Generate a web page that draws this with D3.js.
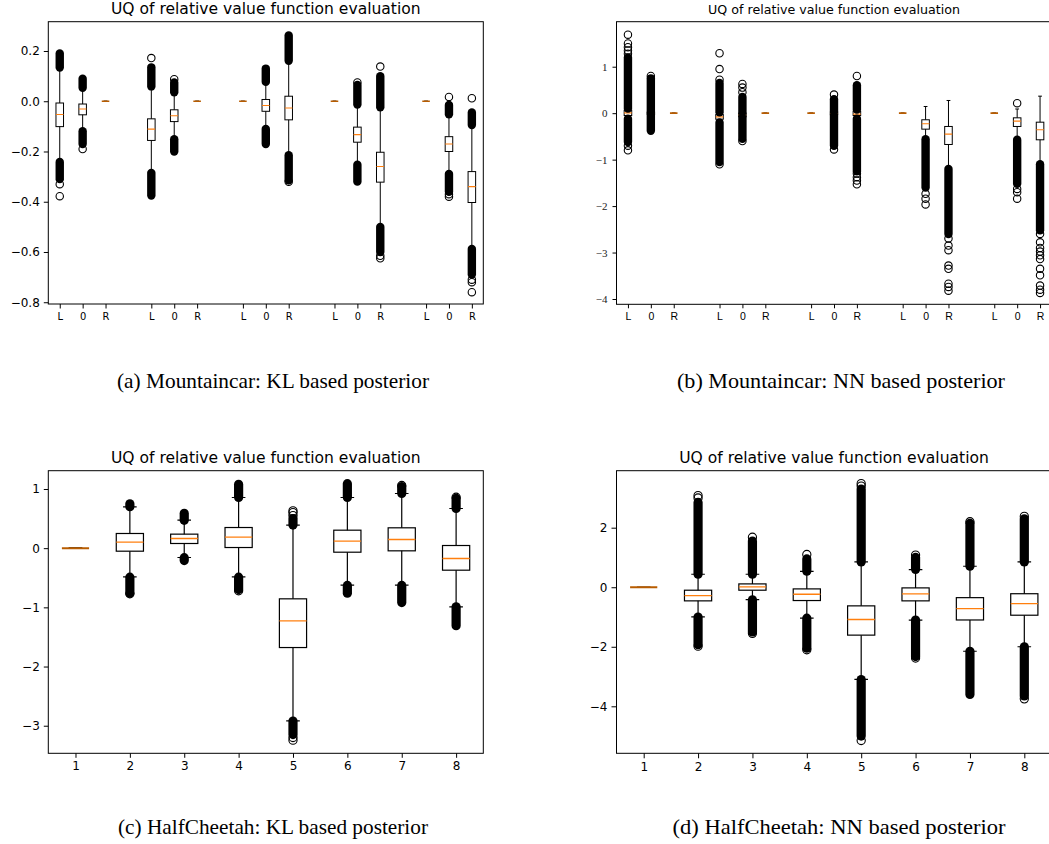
<!DOCTYPE html>
<html><head><meta charset="utf-8">
<script src="https://cdn.jsdelivr.net/npm/d3@7"></script>
<style>body{margin:0;background:#fff;} svg{display:block;overflow:hidden}</style>
</head><body><svg id="c" width="1049" height="844"></svg>
<script>
// ---------------- DATA ----------------
const mcPositions = [1,2,3,5,6,7,9,10,11,13,14,15,17,18,19];
const mcTickLabels = ["L","0","R","L","0","R","L","0","R","L","0","R","L","0","R"];
const hcPositions = [1,2,3,4,5,6,7,8];
const hcTickLabels = ["1","2","3","4","5","6","7","8"];

const titleText = "UQ of relative value function evaluation";
const captions = ["(a) Mountaincar: KL based posterior","(b) Mountaincar: NN based posterior",
                  "(c) HalfCheetah: KL based posterior","(d) HalfCheetah: NN based posterior"];

// box rows: [whiskerLow, q1, median, q3, whiskerHigh]
const mcKLStats = [
 [-0.242,-0.101,-0.053,-0.007,0.134],
 [-0.119,-0.054,-0.031,-0.011,0.054],
 [0,0,0,0,0],
 [-0.285,-0.156,-0.111,-0.070,0.059],
 [-0.151,-0.081,-0.058,-0.034,0.036],
 [0,0,0,0,0],
 [0,0,0,0,0],
 [-0.110,-0.040,-0.017,0.007,0.077],
 [-0.215,-0.074,-0.027,0.020,0.161],
 [0,0,0,0,0],
 [-0.253,-0.163,-0.133,-0.103,-0.013],
 [-0.500,-0.322,-0.260,-0.203,-0.024],
 [0,0,0,0,0],
 [-0.289,-0.200,-0.170,-0.141,-0.052],
 [-0.588,-0.403,-0.340,-0.280,-0.095]
];
// dense outlier clusters [low, high]
const mcKLBands = [
 [[0.134,0.19],[-0.31,-0.242]],
 [[0.054,0.09],[-0.17,-0.119]],
 [],
 [[0.059,0.135],[-0.375,-0.285]],
 [[0.036,0.075],[-0.20,-0.151]],
 [],
 [],
 [[0.077,0.13],[-0.17,-0.11]],
 [[0.161,0.262],[-0.315,-0.215]],
 [],
 [[-0.013,0.065],[-0.32,-0.253]],
 [[-0.024,0.10],[-0.60,-0.50]],
 [],
 [[-0.052,-0.015],[-0.36,-0.289]],
 [[-0.095,-0.045],[-0.69,-0.588]]
];
const mcKLOutliers = [
 [-0.33,-0.378],[-0.19],[],[0.172],[0.088],[],[],[],[-0.32],[],
 [0.075],[0.138,-0.615,-0.625],[],[0.017,-0.37,-0.38],[0.012,-0.71,-0.72,-0.76]
];

const mcNNStats = [
 [-0.12,-0.05,0.007,0.065,0.10],
 [-0.03,-0.02,0.0,0.02,0.03],
 [0,0,0,0,0],
 [-0.20,-0.13,-0.08,-0.03,0.02],
 [-0.10,-0.08,-0.04,0.0,0.02],
 [0,0,0,0,0],
 [0,0,0,0,0],
 [-0.05,-0.03,-0.007,0.02,0.04],
 [-0.12,-0.05,-0.02,0.043,0.08],
 [0,0,0,0,0],
 [-0.55,-0.344,-0.229,-0.142,0.144],
 [-1.20,-0.674,-0.452,-0.286,0.273],
 [0,0,0,0,0],
 [-0.56,-0.286,-0.172,-0.10,0.09],
 [-1.10,-0.573,-0.358,-0.194,0.366]
];
const mcNNBands = [
 [[0.10,1.2],[-0.62,-0.12]],
 [[0.03,0.75],[-0.38,-0.03]],
 [],
 [[0.02,0.65],[-1.05,-0.20]],
 [[0.02,0.35],[-0.55,-0.10]],
 [],[],
 [[0.04,0.30],[-0.70,-0.05]],
 [[0.08,0.60],[-1.25,-0.12]],
 [],
 [[-1.60,-0.56]],
 [[-2.60,-1.20]],
 [],
 [[-1.52,-0.57]],
 [[-2.52,-1.10]]
];
const mcNNOutliers = [
 [1.28,1.35,1.42,1.5,1.69,-0.7,-0.8],
 [0.8],
 [],
 [0.72,0.95,1.29,-1.1],
 [0.45,0.55,0.63,-0.6],
 [],[],
 [0.4,-0.78],
 [0.8,-1.3,-1.38,-1.45,-1.53],
 [],
 [-1.735,-1.84,-1.965],
 [-2.7,-2.85,-2.95,-3.28,-3.35,-3.67,-3.74,-3.82],
 [],
 [0.215,-1.63,-1.7,-1.84],
 [-2.6,-2.78,-2.9,-2.98,-3.06,-3.14,-3.35,-3.49,-3.71,-3.80,-3.87]
];

const hcKLStats = [
 [0,0,0,0,0],
 [-0.485,-0.051,0.101,0.248,0.699],
 [-0.158,0.079,0.163,0.237,0.473],
 [-0.485,0.011,0.186,0.349,0.856],
 [-2.918,-1.679,-1.228,-0.856,0.389],
 [-0.625,-0.068,0.118,0.304,0.856],
 [-0.625,-0.045,0.146,0.344,0.924],
 [-0.992,-0.372,-0.175,0.045,0.670]
];
const hcKLBands = [
 [],
 [[0.70,0.75],[-0.76,-0.49]],
 [[0.47,0.59],[-0.21,-0.16]],
 [[0.856,1.08],[-0.70,-0.49]],
 [[0.39,0.50],[-3.15,-2.92]],
 [[0.856,1.09],[-0.76,-0.63]],
 [[0.924,1.04],[-0.92,-0.63]],
 [[0.67,0.84],[-1.31,-0.99]]
];
const hcKLOutliers = [[],[-0.77],[],[-0.72],[0.55,0.6,0.63,-3.2,-3.245],[],[1.06],[0.86]];

const hcNNStats = [
 [0,0,0,0,0],
 [-0.995,-0.458,-0.279,-0.10,0.436],
 [-0.413,-0.10,0.011,0.112,0.436],
 [-1.039,-0.447,-0.235,-0.056,0.536],
 [-3.095,-1.609,-1.084,-0.626,0.849],
 [-1.106,-0.458,-0.223,-0.022,0.592],
 [-2.15,-1.10,-0.72,-0.35,0.705],
 [-2.00,-0.94,-0.548,-0.218,0.85]
];
const hcNNBands = [
 [],
 [[0.44,2.85],[-1.93,-1.0]],
 [[0.44,1.55],[-1.5,-0.42]],
 [[0.54,0.95],[-2.05,-1.04]],
 [[0.85,3.3],[-5.0,-3.1]],
 [[0.6,1.0],[-2.33,-1.1]],
 [[0.705,2.15],[-3.6,-2.15]],
 [[0.85,2.3],[-3.65,-2.0]]
];
const hcNNOutliers = [[],[3.0,3.08,-1.98],[1.68,-1.55],[1.1,-2.1],[3.4,3.48,-5.15],[1.08,-2.38],[2.2],[2.38,-3.75]];

const mcKLYTicks = [-0.8,-0.6,-0.4,-0.2,0.0,0.2];
const mcNNYTicks = [-4,-3,-2,-1,0,1];
const hcKLYTicks = [-3,-2,-1,0,1];
const hcNNYTicks = [-4,-2,0,2];

// ---------------- DRAWING ----------------
const svg = d3.select("#c");
const ORANGE = "#ff7f0e";
const minus = s => s.replace("-", "\u2212");

function fitWidth(sel, target){
  const len = sel.node().getComputedTextLength();
  const fs = parseFloat(sel.attr("font-size"));
  sel.attr("font-size", fs * target / len);
}

function drawPanel(cfg){
  const g = svg.append("g");
  const x = d3.scaleLinear().domain(cfg.xDomain).range([cfg.left, cfg.left + cfg.width]);
  const y = d3.scaleLinear().domain(cfg.yDomain).range([cfg.top + cfg.height, cfg.top]);
  const clipId = "clip" + cfg.id;
  svg.append("clipPath").attr("id", clipId).append("rect")
     .attr("x", cfg.left).attr("y", cfg.top).attr("width", cfg.width).attr("height", cfg.height);
  const plot = g.append("g").attr("clip-path", `url(#${clipId})`);
  const bwPx = x(cfg.boxWidth) - x(0);
  const r = cfg.r;

  cfg.positions.forEach((p, i) => {
    const [wlo, q1, med, q3, whi] = cfg.stats[i];
    const cx = x(p);
    plot.append("line").attr("x1", cx).attr("x2", cx).attr("y1", y(q3)).attr("y2", y(whi))
      .attr("stroke", "#000").attr("stroke-width", cfg.lw);
    plot.append("line").attr("x1", cx).attr("x2", cx).attr("y1", y(q1)).attr("y2", y(wlo))
      .attr("stroke", "#000").attr("stroke-width", cfg.lw);
    [wlo, whi].forEach(v => plot.append("line")
      .attr("x1", cx - bwPx/4).attr("x2", cx + bwPx/4).attr("y1", y(v)).attr("y2", y(v))
      .attr("stroke", "#000").attr("stroke-width", cfg.lw));
    plot.append("rect").attr("x", cx - bwPx/2).attr("y", y(q3))
      .attr("width", bwPx).attr("height", Math.max(0, y(q1) - y(q3)))
      .attr("fill", "none").attr("stroke", "#000").attr("stroke-width", cfg.lw);
    const flat = (q1 === q3);
    plot.append("line").attr("x1", cx - bwPx/2).attr("x2", cx + bwPx/2)
      .attr("y1", y(med)).attr("y2", y(med))
      .attr("stroke", flat ? "#b85c00" : ORANGE).attr("stroke-width", flat ? cfg.lw*1.7 : cfg.lw*1.1);
    cfg.bands[i].forEach(([lo, hi]) => {
      plot.append("rect").attr("x", cx - r - 0.5).attr("y", y(hi) - r - 0.5)
        .attr("width", 2*r + 1).attr("height", y(lo) - y(hi) + 2*r + 1)
        .attr("rx", r + 0.5).attr("ry", r + 0.5).attr("fill", "#000");
    });
    cfg.outliers[i].forEach(v => {
      plot.append("circle").attr("cx", cx).attr("cy", y(v)).attr("r", r)
        .attr("fill", "none").attr("stroke", "#000").attr("stroke-width", 1.1);
    });
  });

  const yAxis = d3.axisLeft(y).tickValues(cfg.yTicks).tickSize(cfg.tickLen).tickPadding(cfg.yPad)
    .tickFormat(cfg.yFormat);
  const ya = g.append("g").attr("transform", `translate(${cfg.left},0)`).call(yAxis);
  ya.select(".domain").remove();
  ya.selectAll("line").attr("stroke", "#000");
  ya.selectAll("text").attr("font-family", cfg.yFont).attr("font-size", cfg.yFontSize)
    .attr("fill", cfg.yColor || "#000");

  const xAxis = d3.axisBottom(x).tickValues(cfg.positions).tickSize(cfg.tickLen).tickPadding(cfg.xPad)
    .tickFormat((d, i) => cfg.tickLabels[i]);
  const xa = g.append("g").attr("transform", `translate(0,${cfg.top + cfg.height})`).call(xAxis);
  xa.select(".domain").remove();
  xa.selectAll("line").attr("stroke", "#000");
  xa.selectAll("text").attr("font-family", cfg.xFont).attr("font-size", cfg.xFontSize)
    .attr("font-stretch", cfg.xStretch || "normal").attr("fill", "#000");

  g.append("rect").attr("x", cfg.left).attr("y", cfg.top).attr("width", cfg.width).attr("height", cfg.height)
    .attr("fill", "none").attr("stroke", "#000").attr("stroke-width", 1);

  const t = g.append("text").attr("x", cfg.left + cfg.width/2).attr("y", cfg.titleY)
    .attr("text-anchor", "middle").attr("font-family", cfg.titleFont).attr("font-size", 13)
    .attr("fill", "#000").text(titleText);
  fitWidth(t, cfg.titleWidth);

  svg.append("text").attr("x", cfg.capX).attr("y", cfg.capY).attr("text-anchor", "middle")
    .attr("font-family", "'Liberation Serif','Times New Roman',serif").attr("font-size", 21)
    .attr("textLength", cfg.capW).attr("lengthAdjust", "spacingAndGlyphs")
    .attr("fill", "#000").text(cfg.caption);
}

const fmt1 = d => minus(d3.format(".1f")(d));
const fmt0 = d => minus(d3.format("d")(d));

drawPanel({id:"a", left:48.3, top:21.7, width:435, height:282.3, xDomain:[0.5,19.5],
  yDomain:[-0.807,0.3166], positions:mcPositions, tickLabels:mcTickLabels,
  stats:mcKLStats, bands:mcKLBands, outliers:mcKLOutliers, yTicks:mcKLYTicks, yFormat:fmt1,
  boxWidth:0.33, r:3.7, lw:1, tickLen:4.5, yPad:4, xPad:3.5,
  yFont:"'DejaVu Sans',sans-serif", yFontSize:12, xFont:"'DejaVu Sans Condensed','DejaVu Sans',sans-serif",
  xFontSize:11, xStretch:"condensed",
  titleFont:"'DejaVu Sans',sans-serif", titleY:13.5, titleWidth:310,
  caption:captions[0], capX:273, capY:388, capW:312});

drawPanel({id:"b", left:616.5, top:21.7, width:435, height:282.6, xDomain:[0.5,19.5],
  yDomain:[-4.114,1.969], positions:mcPositions, tickLabels:mcTickLabels,
  stats:mcNNStats, bands:mcNNBands, outliers:mcNNOutliers, yTicks:mcNNYTicks, yFormat:fmt0,
  boxWidth:0.33, r:3.7, lw:1, tickLen:4, yPad:5, xPad:4,
  yFont:"'Liberation Serif',serif", yFontSize:11, yColor:"#222", xFont:"'Liberation Sans',sans-serif", xFontSize:10.5,
  titleFont:"'DejaVu Sans',sans-serif", titleY:13.5, titleWidth:252,
  caption:captions[1], capX:841, capY:388, capW:328});

drawPanel({id:"c", left:48.3, top:470.7, width:435, height:282.6, xDomain:[0.5,8.5],
  yDomain:[-3.466,1.309], positions:hcPositions, tickLabels:hcTickLabels,
  stats:hcKLStats, bands:hcKLBands, outliers:hcKLOutliers, yTicks:hcKLYTicks, yFormat:fmt0,
  boxWidth:0.5, r:4.1, lw:1.2, tickLen:4.5, yPad:4, xPad:4,
  yFont:"'DejaVu Sans',sans-serif", yFontSize:12, xFont:"'DejaVu Sans',sans-serif", xFontSize:12,
  titleFont:"'DejaVu Sans',sans-serif", titleY:462.7, titleWidth:310,
  caption:captions[2], capX:273, capY:834, capW:310});

drawPanel({id:"d", left:616.5, top:470.7, width:435, height:282.6, xDomain:[0.5,8.5],
  yDomain:[-5.579,3.915], positions:hcPositions, tickLabels:hcTickLabels,
  stats:hcNNStats, bands:hcNNBands, outliers:hcNNOutliers, yTicks:hcNNYTicks, yFormat:fmt0,
  boxWidth:0.5, r:4.1, lw:1.2, tickLen:5, yPad:4, xPad:4,
  yFont:"'DejaVu Sans',sans-serif", yFontSize:12, xFont:"'DejaVu Sans',sans-serif", xFontSize:12,
  titleFont:"'DejaVu Sans',sans-serif", titleY:462.7, titleWidth:310,
  caption:captions[3], capX:839, capY:834, capW:333});
</script></body></html>
